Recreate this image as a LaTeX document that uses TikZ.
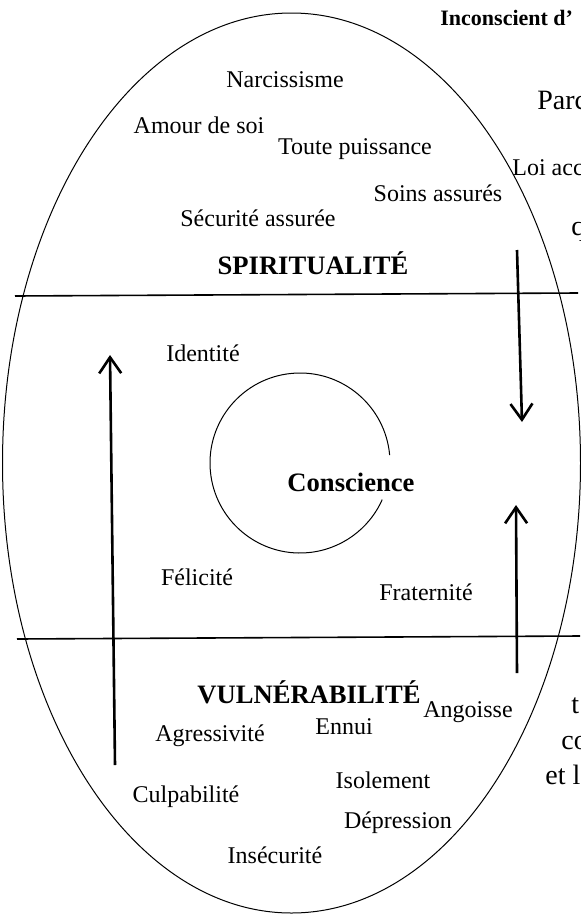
\documentclass[tikz,border=0pt]{standalone}
\usepackage{fontspec}
\setmainfont{Liberation Serif}
\usetikzlibrary{arrows.meta}

\begin{document}
\begin{tikzpicture}[x=0.5pt, y=-0.5pt, every node/.style={font=\fontsize{12}{14}\selectfont, inner sep=0pt}, zone/.style={font=\fontsize{13.3}{16}\selectfont\bfseries}, side/.style={anchor=west, font=\fontsize{14}{17}\selectfont}, flow/.style={line width=1.3pt, -{Straight Barb[length=8pt, width=11pt]}}]
	\useasboundingbox (0,0) rectangle (581,916); \clip (0,0) rectangle (581,916);
	\draw[line width=0.5pt] (291.5,463) ellipse [x radius=289, y radius=450];
	\draw[line width=0.8pt] (15,296) -- (578,293);
	\draw[line width=0.8pt] (17,639) -- (580,636);
	\draw[line width=0.5pt] (300,463) ++(-5:90) arc[start angle=-5, end angle=-336, radius=90];
	\foreach \n/\x/\y/\t in {narc/285/80/Narcissisme, amour/199/125/Amour de soi, toute/355/149/Toute puissance, soins/438/193/Soins assurés, secu/258/218/Sécurité assurée, ident/203/353/Identité, felic/197/577/Félicité, frat/426/592/Fraternité, angoi/468/712/Angoisse, ennui/344/727/Ennui, agres/210/736/Agressivité, isol/383/780/Isolement, culp/186/797/Culpabilité, depr/398/823/Dépression, insec/275/855/Insécurité} {\node (\n) at (\x,\y) {\t};}
	\node[zone] (spirit) at (313,263) {SPIRITUALITÉ};
	\node[zone] (consc) at (351,482) {Conscience};
	\node[zone] (vuln) at (309,692) {VULNÉRABILITÉ};
	% cut off on the right
	\node[anchor=west, font=\fontsize{11}{13}\selectfont\bfseries] (incons) at (440,18) {Inconscient d’};
	\node[side] (parc) at (537,100) {Parc};
	\node[anchor=west] (loi) at (512,168) {Loi acc};
	\node[side] (q) at (571,232) {q};
	\node[side] (t) at (571,706) {t};
	\node[side] (co) at (561,743) {co};
	\node[side] (etl) at (545,775) {et l};
	\coordinate (l0) at (115,765); \coordinate (l1) at (110,355);
	\coordinate (d0) at (517,250); \coordinate (d1) at (522,422);
	\coordinate (u0) at (517,673); \coordinate (u1) at (516,505);
	\draw[flow] (l0) -- (l1);
	\draw[flow] (d0) -- (d1);
	\draw[flow] (u0) -- (u1);
\end{tikzpicture}
\end{document}
